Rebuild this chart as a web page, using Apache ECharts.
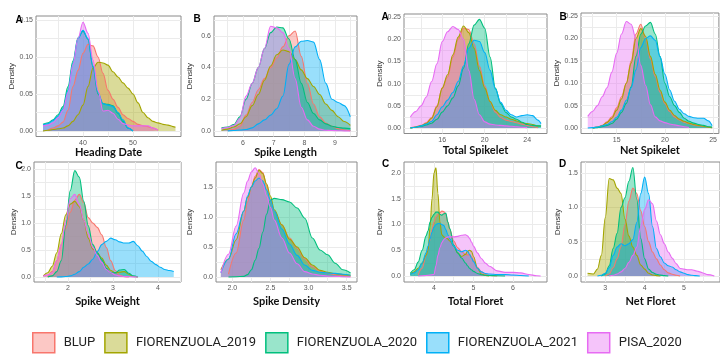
<!DOCTYPE html>
<html>
<head>
<meta charset="utf-8">
<script src="https://cdn.jsdelivr.net/npm/echarts@6/dist/echarts.min.js"></script>
<style>
html, body { margin: 0; background: #fff; }
#chart { width: 720px; height: 354px; }
</style>
</head>
<body>
<div id="chart"></div>
<script>
const groups = ["BLUP", "FIORENZUOLA_2019", "FIORENZUOLA_2020", "FIORENZUOLA_2021", "PISA_2020"]
const colors = ["#F8766D", "#A3A500", "#00BF7D", "#00B0F6", "#E76BF3"]

// Heading Date
const hdX = [32, 33, 34, 35, 36, 37, 38, 39, 40, 41, 42, 43, 44, 45, 46, 47, 48, 49, 50, 51, 52, 53, 54, 55, 56, 57, 58, 58.5]
const hdBLUP = [null, 0.001, 0.004, 0.007, 0.012, 0.028, 0.06, 0.082, 0.105, 0.117, 0.115, 0.1, 0.078, 0.055, 0.043, 0.032, 0.022, 0.017, 0.013, 0.009, 0.007, 0.006, 0.004, 0.001, null, null, null, null]
const hd2019 = [0.0, 0.001, 0.002, 0.003, 0.004, 0.007, 0.013, 0.022, 0.035, 0.06, 0.085, 0.093, 0.092, 0.089, 0.08, 0.073, 0.065, 0.058, 0.05, 0.038, 0.025, 0.018, 0.013, 0.011, 0.009, 0.008, 0.006, 0.005]
const hd2020 = [0.009, 0.011, 0.015, 0.022, 0.033, 0.06, 0.095, 0.126, 0.135, 0.124, 0.086, 0.05, 0.037, 0.036, 0.034, 0.024, 0.013, 0.004, 0.0, null, null, null, null, null, null, null, null, null]
const hd2021 = [0.008, 0.01, 0.014, 0.02, 0.03, 0.055, 0.092, 0.125, 0.136, 0.125, 0.088, 0.052, 0.037, 0.035, 0.033, 0.025, 0.015, 0.004, 0.0, null, null, null, null, null, null, null, null, null]
const hdPISA = [0.007, 0.008, 0.011, 0.018, 0.028, 0.052, 0.09, 0.125, 0.147, 0.132, 0.096, 0.055, 0.027, 0.028, 0.024, 0.016, 0.01, 0.008, 0.007, 0.007, 0.007, 0.007, 0.004, 0.001, null, null, null, null]

// Spike Length
const slX = [5.3, 5.5, 5.7, 5.9, 6.1, 6.3, 6.5, 6.7, 6.9, 7.1, 7.3, 7.5, 7.7, 7.9, 8.1, 8.3, 8.5, 8.7, 8.9, 9.1, 9.3, 9.5]
const slBLUP = [null, 0.002, 0.01, 0.03, 0.1, 0.18, 0.26, 0.33, 0.4, 0.46, 0.53, 0.6, 0.63, 0.47, 0.3, 0.17, 0.09, 0.05, 0.03, 0.015, 0.006, 0.002]
const sl2019 = [0.005, 0.012, 0.025, 0.045, 0.09, 0.16, 0.23, 0.32, 0.41, 0.48, 0.51, 0.5, 0.45, 0.385, 0.33, 0.28, 0.23, 0.17, 0.13, 0.09, 0.06, 0.036]
const sl2020 = [0.02, 0.025, 0.04, 0.09, 0.2, 0.3, 0.4, 0.52, 0.62, 0.655, 0.65, 0.58, 0.45, 0.3, 0.18, 0.11, 0.07, 0.045, 0.03, 0.022, 0.018, 0.015]
const sl2021 = [null, 0.001, 0.003, 0.006, 0.01, 0.02, 0.045, 0.07, 0.1, 0.14, 0.22, 0.42, 0.53, 0.565, 0.57, 0.56, 0.45, 0.3, 0.2, 0.18, 0.16, 0.09]
const slPISA = [0.015, 0.022, 0.035, 0.08, 0.22, 0.3, 0.4, 0.52, 0.66, 0.65, 0.62, 0.52, 0.33, 0.15, 0.07, 0.03, 0.012, 0.005, 0.003, 0.002, 0.001, 0.0]

// Total Spikelet
const tsX = [13, 13.5, 14, 14.5, 15, 15.5, 16, 16.5, 17, 17.5, 18, 18.5, 19, 19.5, 20, 20.5, 21, 21.5, 22, 22.5, 23, 23.5, 24, 24.5, 25, 25.3]
const tsBLUP = [0.0, 0.003, 0.006, 0.012, 0.024, 0.05, 0.09, 0.115, 0.16, 0.2, 0.225, 0.222, 0.19, 0.14, 0.095, 0.06, 0.036, 0.024, 0.018, 0.015, 0.012, 0.009, 0.006, 0.003, 0.001, null]
const ts2019 = [0.0, 0.002, 0.005, 0.01, 0.022, 0.048, 0.09, 0.12, 0.165, 0.205, 0.23, 0.215, 0.18, 0.13, 0.09, 0.06, 0.04, 0.03, 0.025, 0.02, 0.016, 0.012, 0.01, 0.008, 0.005, 0.004]
const ts2020 = [0.0, 0.002, 0.004, 0.007, 0.011, 0.02, 0.036, 0.05, 0.068, 0.095, 0.135, 0.19, 0.232, 0.245, 0.225, 0.16, 0.09, 0.055, 0.035, 0.025, 0.02, 0.013, 0.008, 0.006, 0.005, 0.005]
const ts2021 = [0.0, 0.002, 0.005, 0.009, 0.015, 0.03, 0.048, 0.063, 0.08, 0.105, 0.14, 0.18, 0.198, 0.195, 0.17, 0.13, 0.088, 0.058, 0.04, 0.03, 0.025, 0.028, 0.03, 0.028, 0.018, 0.01]
const tsPISA = [0.025, 0.037, 0.05, 0.07, 0.105, 0.145, 0.195, 0.217, 0.229, 0.222, 0.2, 0.13, 0.065, 0.03, 0.014, 0.009, 0.007, 0.006, 0.005, 0.004, 0.003, 0.002, 0.001, null, null, null]

// Net Spikelet
const nsX = [12, 12.5, 13, 13.5, 14, 14.5, 15, 15.5, 16, 16.5, 17, 17.5, 18, 18.5, 19, 19.5, 20, 20.5, 21, 21.5, 22, 22.5, 23, 23.5, 24, 24.5, 24.9]
const nsBLUP = [null, 0.0, 0.002, 0.006, 0.014, 0.025, 0.045, 0.07, 0.1, 0.15, 0.21, 0.232, 0.2, 0.155, 0.115, 0.08, 0.055, 0.037, 0.025, 0.018, 0.013, 0.01, 0.007, 0.005, 0.004, 0.002, 0.001]
const ns2019 = [null, 0.0, 0.002, 0.005, 0.012, 0.022, 0.04, 0.065, 0.1, 0.145, 0.2, 0.222, 0.205, 0.16, 0.12, 0.085, 0.058, 0.04, 0.028, 0.02, 0.015, 0.011, 0.008, 0.006, 0.004, 0.002, 0.001]
const ns2020 = [null, 0.0, 0.001, 0.003, 0.006, 0.01, 0.02, 0.035, 0.055, 0.092, 0.16, 0.21, 0.228, 0.236, 0.21, 0.16, 0.1, 0.07, 0.05, 0.035, 0.022, 0.015, 0.011, 0.008, 0.006, 0.003, 0.002]
const ns2021 = [0.0, 0.001, 0.002, 0.005, 0.008, 0.014, 0.024, 0.04, 0.062, 0.09, 0.13, 0.18, 0.2, 0.206, 0.196, 0.159, 0.12, 0.085, 0.06, 0.042, 0.032, 0.026, 0.023, 0.022, 0.022, 0.016, 0.005]
const nsPISA = [0.026, 0.037, 0.05, 0.07, 0.09, 0.125, 0.167, 0.21, 0.238, 0.232, 0.2, 0.14, 0.095, 0.052, 0.025, 0.016, 0.012, 0.009, 0.007, 0.005, 0.003, 0.001, null, null, null, null, null]

// Spike Weight
const swX = [1.45, 1.55, 1.65, 1.75, 1.85, 1.95, 2.05, 2.15, 2.25, 2.35, 2.45, 2.55, 2.65, 2.75, 2.85, 2.95, 3.05, 3.15, 3.25, 3.35, 3.45, 3.55, 3.65, 3.75, 3.85, 3.95, 4.05, 4.15, 4.25, 4.35]
const swBLUP = [null, 0.0, 0.1, 0.3, 0.6, 0.9, 1.2, 1.42, 1.53, 1.38, 1.1, 1.0, 0.92, 0.78, 0.55, 0.3, 0.12, 0.03, 0.005, 0.0, null, null, null, null, null, null, null, null, null, null]
const sw2019 = [0.02, 0.08, 0.2, 0.45, 0.8, 1.15, 1.35, 1.4, 1.3, 1.05, 0.72, 0.52, 0.45, 0.35, 0.22, 0.12, 0.08, 0.09, 0.1, 0.05, 0.01, 0.0, null, null, null, null, null, null, null, null]
const sw2020 = [null, 0.0, 0.02, 0.1, 0.3, 0.95, 1.6, 1.97, 1.85, 1.4, 0.95, 0.6, 0.45, 0.32, 0.16, 0.08, 0.08, 0.13, 0.14, 0.07, 0.02, 0.0, null, null, null, null, null, null, null, null]
const sw2021 = [null, null, null, 0.0, 0.003, 0.008, 0.02, 0.05, 0.1, 0.18, 0.24, 0.33, 0.47, 0.6, 0.66, 0.72, 0.69, 0.65, 0.63, 0.63, 0.66, 0.58, 0.48, 0.38, 0.29, 0.23, 0.18, 0.14, 0.12, 0.1]
const swPISA = [0.02, 0.04, 0.08, 0.3, 0.6, 1.05, 1.45, 1.53, 1.35, 1.05, 0.8, 0.55, 0.4, 0.27, 0.14, 0.08, 0.04, 0.02, 0.01, 0.005, 0.002, 0.001, null, null, null, null, null, null, null, null]

// Spike Density
const sdX = [1.85, 1.95, 2.05, 2.15, 2.2, 2.25, 2.3, 2.35, 2.4, 2.45, 2.5, 2.55, 2.65, 2.75, 2.85, 2.95, 3.05, 3.15, 3.25, 3.35, 3.45, 3.55]
const sdBLUP = [null, 0.05, 0.4, 0.95, 1.25, 1.5, 1.68, 1.79, 1.74, 1.52, 1.28, 1.1, 0.87, 0.65, 0.48, 0.3, 0.17, 0.1, 0.06, 0.04, 0.02, 0.01]
const sd2019 = [0.12, 0.3, 0.62, 1.1, 1.33, 1.5, 1.65, 1.78, 1.72, 1.55, 1.35, 1.12, 0.87, 0.63, 0.5, 0.32, 0.2, 0.11, 0.08, 0.055, 0.04, 0.03]
const sd2020 = [null, 0.0, 0.005, 0.01, 0.04, 0.12, 0.28, 0.48, 0.75, 1.05, 1.28, 1.31, 1.29, 1.25, 1.15, 0.98, 0.65, 0.45, 0.37, 0.23, 0.12, 0.066]
const sd2021 = [0.07, 0.3, 0.72, 1.1, 1.35, 1.5, 1.6, 1.65, 1.6, 1.45, 1.28, 1.1, 0.8, 0.55, 0.36, 0.2, 0.11, 0.08, 0.065, 0.06, 0.045, 0.03]
const sdPISA = [0.07, 0.38, 0.85, 1.4, 1.6, 1.75, 1.82, 1.72, 1.55, 1.35, 1.16, 0.95, 0.65, 0.4, 0.22, 0.09, 0.05, 0.03, 0.015, 0.01, 0.005, 0.0]

// Total Floret
const tfX = [3.4, 3.5, 3.6, 3.7, 3.8, 3.85, 3.9, 3.95, 4.0, 4.05, 4.1, 4.15, 4.2, 4.25, 4.3, 4.35, 4.4, 4.5, 4.6, 4.7, 4.8, 4.85, 4.9, 4.95, 5.0, 5.1, 5.2, 5.3, 5.4, 5.6, 5.8, 6.0, 6.2, 6.4, 6.6, 6.7]
const tfBLUP = [null, null, 0.02, 0.15, 0.4, 0.55, 0.7, 0.9, 1.05, 1.15, 1.2, 1.23, 1.26, 1.25, 1.2, 1.05, 0.9, 0.68, 0.55, 0.47, 0.42, 0.41, 0.41, 0.38, 0.3, 0.17, 0.08, 0.03, 0.01, 0.0, null, null, null, null, null, null]
const tf2019 = [0.03, 0.08, 0.15, 0.25, 0.4, 0.5, 0.95, 1.5, 2.0, 2.1, 1.6, 1.05, 0.8, 0.76, 0.74, 0.72, 0.68, 0.58, 0.45, 0.38, 0.42, 0.48, 0.5, 0.48, 0.38, 0.15, 0.04, 0.01, 0.0, null, null, null, null, null, null, null]
const tf2020 = [0.05, 0.12, 0.27, 0.5, 0.78, 0.88, 1.05, 1.14, 1.2, 1.24, 1.24, 1.2, 1.18, 1.21, 1.22, 1.05, 0.92, 0.6, 0.45, 0.35, 0.25, 0.2, 0.15, 0.12, 0.09, 0.05, 0.025, 0.015, 0.01, 0.005, 0.0, null, null, null, null, null]
const tf2021 = [0.03, 0.06, 0.12, 0.25, 0.45, 0.58, 0.72, 0.85, 0.95, 1.0, 1.02, 1.02, 1.0, 0.98, 0.9, 0.8, 0.72, 0.58, 0.5, 0.47, 0.5, 0.48, 0.42, 0.35, 0.28, 0.15, 0.08, 0.05, 0.04, 0.03, 0.03, 0.02, 0.01, 0.0, null, null]
const tfPISA = [null, null, 0.0, 0.005, 0.01, 0.015, 0.02, 0.025, 0.03, 0.2, 0.4, 0.55, 0.65, 0.71, 0.74, 0.76, 0.76, 0.76, 0.77, 0.79, 0.8, 0.78, 0.73, 0.66, 0.58, 0.45, 0.34, 0.25, 0.19, 0.1, 0.07, 0.07, 0.06, 0.03, 0.005, 0.0]

// Net Floret
const nfX = [2.55, 2.7, 2.8, 2.9, 3.0, 3.1, 3.2, 3.3, 3.4, 3.5, 3.6, 3.7, 3.8, 3.9, 4.0, 4.1, 4.2, 4.3, 4.4, 4.5, 4.6, 4.7, 4.8, 4.9, 5.0, 5.1, 5.2, 5.3, 5.4, 5.5, 5.6, 5.77]
const nfBLUP = [null, null, null, null, 0.0, 0.03, 0.12, 0.25, 0.43, 0.75, 1.09, 1.28, 1.2, 0.95, 0.72, 0.5, 0.35, 0.25, 0.16, 0.09, 0.045, 0.025, 0.01, 0.0, null, null, null, null, null, null, null, null]
const nf2019 = [0.04, 0.03, 0.1, 0.3, 0.85, 1.42, 1.4, 1.28, 1.2, 0.83, 0.58, 0.42, 0.3, 0.16, 0.1, 0.04, 0.015, 0.005, 0.0, null, null, null, null, null, null, null, null, null, null, null, null, null]
const nf2020 = [null, null, null, 0.0, 0.03, 0.15, 0.4, 0.62, 1.0, 1.14, 1.38, 1.58, 1.12, 0.55, 0.25, 0.1, 0.05, 0.025, 0.012, 0.005, 0.0, null, null, null, null, null, null, null, null, null, null, null]
const nf2021 = [null, null, 0.0, 0.01, 0.04, 0.12, 0.3, 0.42, 0.47, 0.44, 0.47, 0.53, 0.78, 1.2, 1.44, 1.2, 0.72, 0.4, 0.28, 0.19, 0.15, 0.13, 0.09, 0.06, 0.04, 0.02, 0.01, 0.005, 0.0, null, null, null]
const nfPISA = [null, null, null, null, null, 0.0, 0.01, 0.03, 0.06, 0.11, 0.2, 0.3, 0.42, 0.72, 0.97, 1.11, 1.05, 0.8, 0.6, 0.47, 0.35, 0.26, 0.18, 0.11, 0.1, 0.09, 0.09, 0.075, 0.06, 0.04, 0.02, 0.0]

// tick labels and grid lines
const hdXTicks = [40, 50], hdXLines = [35, 40, 45, 50, 55]
const hdYTicks = [0, 0.05, 0.1, 0.15], hdYLines = [0, 0.025, 0.05, 0.075, 0.1, 0.125, 0.15]
const slXTicks = [6, 7, 8, 9], slXLines = [5.5, 6, 6.5, 7, 7.5, 8, 8.5, 9, 9.5]
const slYTicks = [0, 0.2, 0.4, 0.6], slYLines = [0, 0.1, 0.2, 0.3, 0.4, 0.5, 0.6, 0.7]
const tsXTicks = [16, 20, 24], tsXLines = [14, 16, 18, 20, 22, 24]
const nsXTicks = [15, 20, 25], nsXLines = [12.5, 15, 17.5, 20, 22.5, 25]
const spkYTicks = [0, 0.05, 0.1, 0.15, 0.2, 0.25], spkYLines = [0, 0.025, 0.05, 0.075, 0.1, 0.125, 0.15, 0.175, 0.2, 0.225, 0.25]
const swXTicks = [2, 3, 4], swXLines = [1.5, 2, 2.5, 3, 3.5, 4, 4.5]
const swYTicks = [0, 0.5, 1, 1.5, 2], swYLines = [0, 0.25, 0.5, 0.75, 1, 1.25, 1.5, 1.75, 2]
const sdXTicks = [2, 2.5, 3, 3.5], sdXLines = [2, 2.25, 2.5, 2.75, 3, 3.25, 3.5]
const sdYTicks = [0, 0.5, 1, 1.5], sdYLines = [0, 0.25, 0.5, 0.75, 1, 1.25, 1.5, 1.75]
const tfXTicks = [4, 5, 6], tfXLines = [3.5, 4, 4.5, 5, 5.5, 6, 6.5]
const nfXTicks = [3, 4, 5], nfXLines = [2.5, 3, 3.5, 4, 4.5, 5, 5.5]
const nfYTicks = [0, 0.5, 1, 1.5], nfYLines = [0, 0.25, 0.5, 0.75, 1, 1.25, 1.5]

const panels = [
	{ title: "Heading Date", letter: "A", x: hdX, ys: [hdBLUP, hd2019, hd2020, hd2021, hdPISA], xt: hdXTicks, xl: hdXLines, yt: hdYTicks, yl: hdYLines, xd: 0, yd: 2 },
	{ title: "Spike Length", letter: "B", x: slX, ys: [slBLUP, sl2019, sl2020, sl2021, slPISA], xt: slXTicks, xl: slXLines, yt: slYTicks, yl: slYLines, xd: 0, yd: 1 },
	{ title: "Total Spikelet", letter: "A", x: tsX, ys: [tsBLUP, ts2019, ts2020, ts2021, tsPISA], xt: tsXTicks, xl: tsXLines, yt: spkYTicks, yl: spkYLines, xd: 0, yd: 2 },
	{ title: "Net Spikelet", letter: "B", x: nsX, ys: [nsBLUP, ns2019, ns2020, ns2021, nsPISA], xt: nsXTicks, xl: nsXLines, yt: spkYTicks, yl: spkYLines, xd: 0, yd: 2 },
	{ title: "Spike Weight", letter: "C", x: swX, ys: [swBLUP, sw2019, sw2020, sw2021, swPISA], xt: swXTicks, xl: swXLines, yt: swYTicks, yl: swYLines, xd: 0, yd: 1 },
	{ title: "Spike Density", letter: "", x: sdX, ys: [sdBLUP, sd2019, sd2020, sd2021, sdPISA], xt: sdXTicks, xl: sdXLines, yt: sdYTicks, yl: sdYLines, xd: 1, yd: 1 },
	{ title: "Total Floret", letter: "C", x: tfX, ys: [tfBLUP, tf2019, tf2020, tf2021, tfPISA], xt: tfXTicks, xl: tfXLines, yt: swYTicks, yl: swYLines, xd: 0, yd: 1 },
	{ title: "Net Floret", letter: "D", x: nfX, ys: [nfBLUP, nf2019, nf2020, nf2021, nfPISA], xt: nfXTicks, xl: nfXLines, yt: nfYTicks, yl: nfYLines, xd: 0, yd: 1 }
]

// panel boxes (px) and axis ranges
const layout = [
	{ left: 36, top: 16, width: 145, height: 120.5, x0: 30.6, x1: 59.6, y0: -0.0074, y1: 0.1554, yGap: 17, xGap: 9, lx: 19, ly: 20 },
	{ left: 214, top: 16, width: 143, height: 120.5, x0: 5.055, x1: 9.717, y0: -0.0345, y1: 0.7245, yGap: 20, xGap: 9, lx: 197, ly: 19.5 },
	{ left: 404, top: 14, width: 143, height: 119.5, x0: 12.4, x1: 25.86, y0: -0.0122, y1: 0.257, yGap: 20, xGap: 11, lx: 385, ly: 17 },
	{ left: 581, top: 13, width: 143, height: 120.5, x0: 11.3, x1: 25.6, y0: -0.0122, y1: 0.257, yGap: 19, xGap: 11, lx: 563, ly: 17 },
	{ left: 34, top: 162, width: 147, height: 120, x0: 1.244, x1: 4.511, y0: -0.0926, y1: 2.13, yGap: 15, xGap: 14, lx: 19, ly: 166.5 },
	{ left: 216, top: 162, width: 141, height: 120, x0: 1.786, x1: 3.635, y0: -0.0833, y1: 1.9167, yGap: 22, xGap: 14, lx: 0, ly: 0 },
	{ left: 404, top: 162, width: 143, height: 120, x0: 3.241, x1: 6.861, y0: -0.1165, y1: 2.2136, yGap: 20, xGap: 14, lx: 385.5, ly: 164.5 },
	{ left: 581, top: 162, width: 143, height: 120, x0: 2.383, x1: 5.914, y0: -0.0874, y1: 1.66, yGap: 19, xGap: 14, lx: 562.5, ly: 164 }
]

const fade = (hex, a) => {
	const n = parseInt(hex.slice(1), 16)
	return "rgba(" + (n >> 16) + "," + ((n >> 8) & 255) + "," + (n & 255) + "," + a + ")"
}

const tickFont = { fontFamily: "Liberation Sans", fontSize: 7, color: "#595959" }

const grid = [], xAxis = [], yAxis = [], series = [], graphic = []
panels.forEach((p, i) => {
	const L = layout[i]
	grid.push({ left: L.left, top: L.top, width: L.width, height: L.height, show: true, borderColor: "#8a8a8a", borderWidth: 1, backgroundColor: "#fff" })
	xAxis.push({
		gridIndex: i, type: "value", min: L.x0, max: L.x1,
		axisLine: { show: false },
		axisTick: { show: false, customValues: p.xl },
		axisLabel: Object.assign({ customValues: p.xt, margin: 3, formatter: v => v.toFixed(p.xd) }, tickFont),
		splitLine: { show: true, lineStyle: { color: "#ebebeb", width: 1 } },
		name: p.title, nameLocation: "middle", nameGap: L.xGap,
		nameTextStyle: { fontFamily: "Lato", fontWeight: "bold", fontSize: 11, color: "#111", verticalAlign: "top" }
	})
	yAxis.push({
		gridIndex: i, type: "value", min: L.y0, max: L.y1,
		axisLine: { show: false },
		axisTick: { show: false, customValues: p.yl },
		axisLabel: Object.assign({ customValues: p.yt, margin: 3, formatter: v => v.toFixed(p.yd) }, tickFont),
		splitLine: { show: true, lineStyle: { color: "#ebebeb", width: 1 } },
		name: "Density", nameLocation: "middle", nameGap: L.yGap,
		nameTextStyle: { fontFamily: "Liberation Sans", fontSize: 8, color: "#333" }
	})
	p.ys.forEach((ys, k) => {
		series.push({
			type: "line", name: groups[k], xAxisIndex: i, yAxisIndex: i,
			data: p.x.map((x, j) => [x, ys[j]]).filter(d => d[1] !== null),
			smooth: 0.35, smoothMonotone: "x", symbol: "none", silent: true,
			lineStyle: { color: colors[k], width: 1.1 },
			itemStyle: { color: colors[k] },
			areaStyle: { color: colors[k], opacity: 0.4 }
		})
	})
	if (p.letter) {
		graphic.push({
			type: "text", x: L.lx, y: L.ly, z: 100,
			style: { text: p.letter, font: "bold 10px 'Liberation Sans'", fill: "#000", align: "center", verticalAlign: "middle" }
		})
	}
})

const chart = echarts.init(document.getElementById("chart"))
chart.setOption({
	animation: false,
	backgroundColor: "#fff",
	grid, xAxis, yAxis, series, graphic,
	legend: {
		left: 32, top: 332, padding: 0,
		itemWidth: 22, itemHeight: 20, itemGap: 9,
		selectedMode: false,
		data: groups.map((g, k) => ({
			name: g, icon: "rect",
			itemStyle: { color: fade(colors[k], 0.4), borderColor: colors[k], borderWidth: 1.5 }
		})),
		textStyle: { fontFamily: "Roboto", fontSize: 13, color: "#222", padding: [0, 0, 0, 4] }
	}
})
</script>
</body>
</html>
